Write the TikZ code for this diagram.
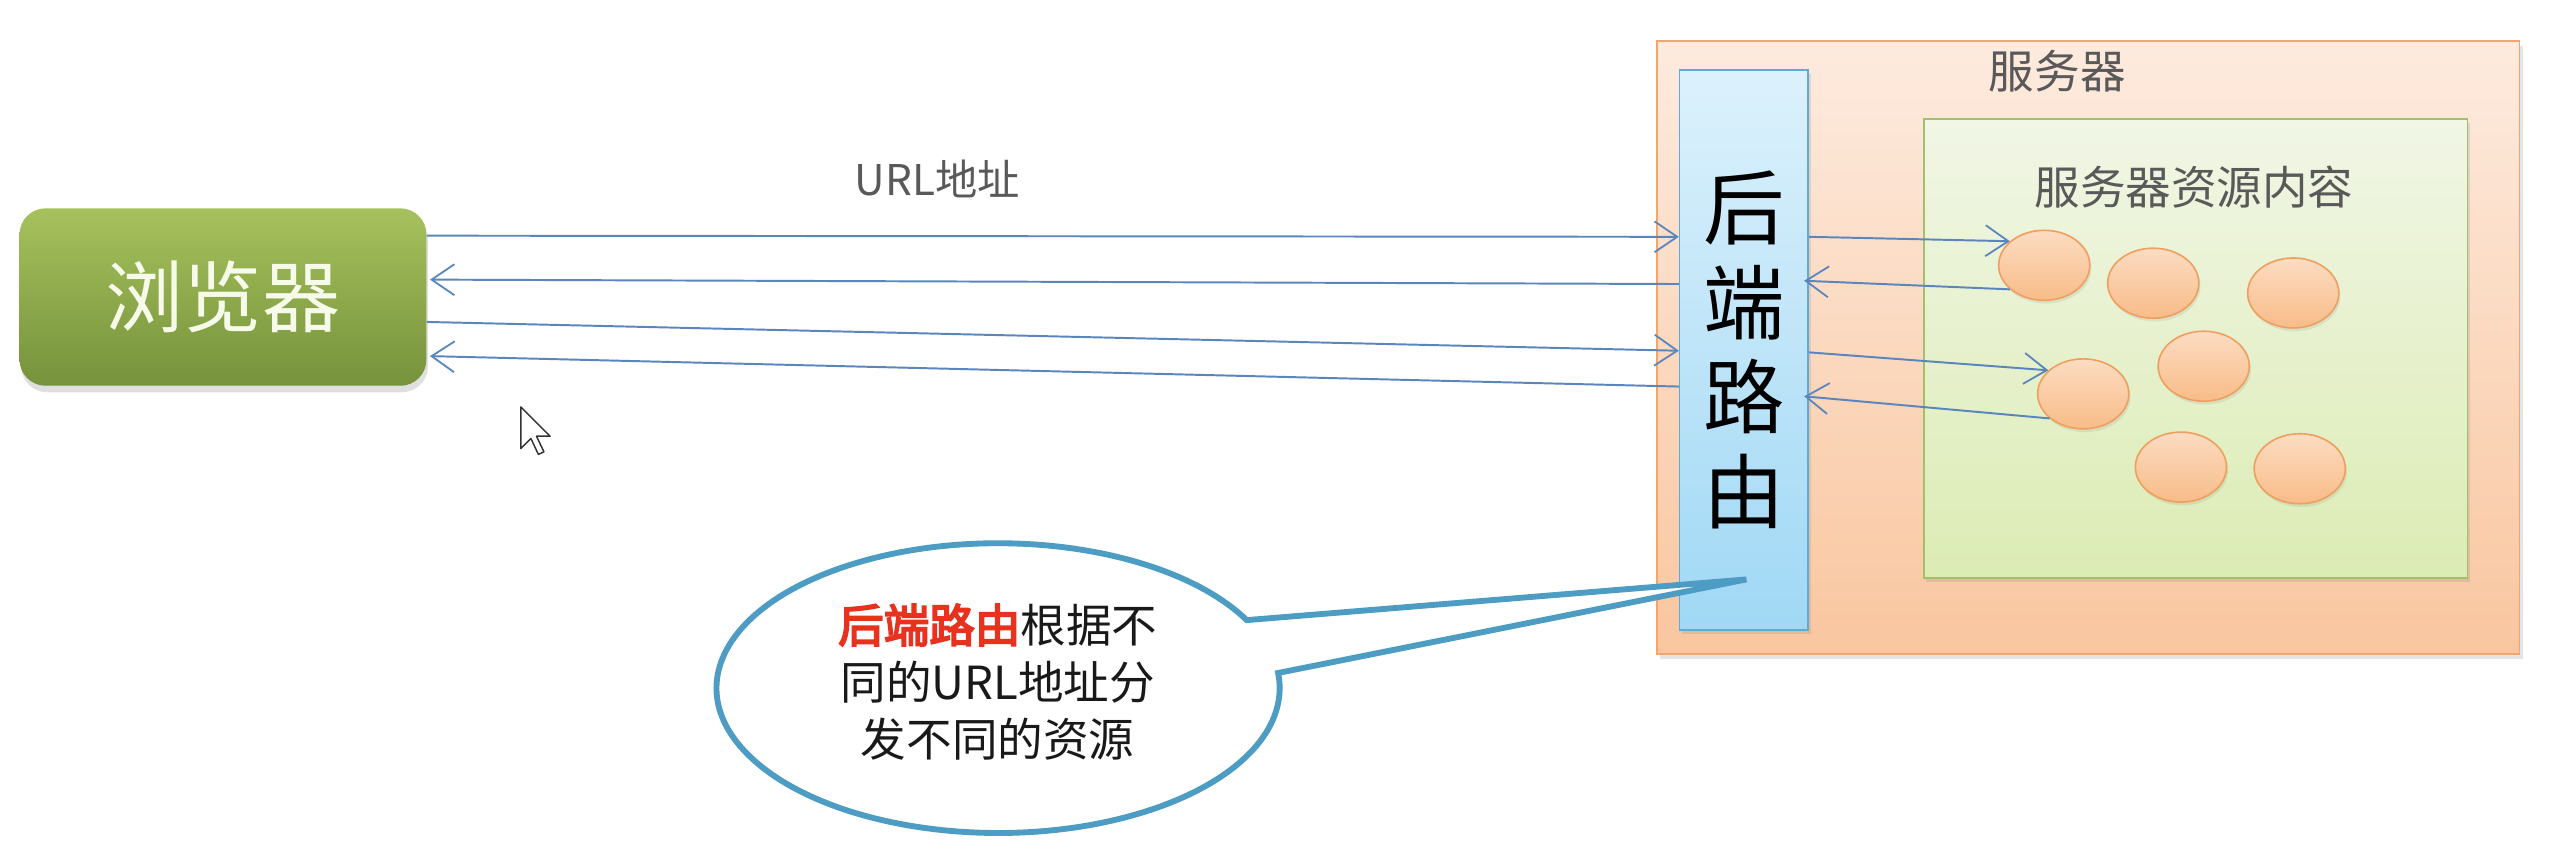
\documentclass[tikz,border=0pt]{standalone}
\usepackage{fontspec}
\setmainfont{Noto Sans CJK SC}
\newfontfamily\cjkbold[FakeBold=4]{Noto Sans CJK SC}
\usetikzlibrary{arrows.meta,shadows,calc,shapes.geometric}
\definecolor{linkblue}{HTML}{5A85BD}
\definecolor{graytxt}{HTML}{595959}
\definecolor{brtop}{HTML}{A6C15C}
\definecolor{brbot}{HTML}{76923C}
\definecolor{brtext}{HTML}{F6FAE8}
\definecolor{srvtop}{HTML}{FDEBDF}
\definecolor{srvbot}{HTML}{F9C69F}
\definecolor{srvline}{HTML}{F2A66E}
\definecolor{rttop}{HTML}{DCF1FC}
\definecolor{rtbot}{HTML}{A0D8F5}
\definecolor{rtline}{HTML}{5EABD8}
\definecolor{intop}{HTML}{F1F6E6}
\definecolor{inbot}{HTML}{DCECB4}
\definecolor{inline}{HTML}{A2BF6C}
\definecolor{restop}{HTML}{FCDCC2}
\definecolor{resbot}{HTML}{F8BC88}
\definecolor{resline}{HTML}{EFA060}
\definecolor{callline}{HTML}{4C9CC3}
\definecolor{callred}{HTML}{E8321E}
\begin{document}
\begin{tikzpicture}[x=1pt,y=-1pt,
  conn/.style={draw=linkblue, line width=1.2pt,
    -{Straight Barb[length=14pt,width=19pt,line width=1.1pt]}},
  browserbox/.style={rounded corners=16pt, minimum width=250pt, minimum height=109pt,
    inner sep=0pt, top color=brtop, bottom color=brbot, text=brtext,
    font=\fontsize{48}{58}\selectfont,
    drop shadow={opacity=0.25, shadow xshift=1pt, shadow yshift=-4pt}},
  serverbox/.style={draw=srvline, line width=1pt, minimum width=530pt, minimum height=377pt,
    top color=srvtop, bottom color=srvbot, inner sep=0pt,
    drop shadow={opacity=0.2, shadow xshift=2pt, shadow yshift=-3pt}},
  routerbox/.style={draw=rtline, line width=1pt, minimum width=79pt, minimum height=344pt,
    top color=rttop, bottom color=rtbot, inner sep=0pt, align=center,
    font=\fontsize{50}{58}\selectfont,
    drop shadow={opacity=0.2, shadow xshift=1.5pt, shadow yshift=-2.5pt}},
  innerbox/.style={draw=inline, line width=1pt, minimum width=334pt, minimum height=282pt,
    top color=intop, bottom color=inbot, inner sep=0pt,
    drop shadow={opacity=0.2, shadow xshift=1.5pt, shadow yshift=-2.5pt}},
  res/.style={ellipse, draw=resline, line width=1pt, minimum width=56pt, minimum height=43pt,
    top color=restop, bottom color=resbot, inner sep=0pt,
    drop shadow={opacity=0.15, shadow xshift=1pt, shadow yshift=-2pt}},
  graylabel/.style={text=graytxt, inner sep=0pt, font=\fontsize{28}{34}\selectfont},
  calloutline/.style={draw=callline, line width=3.6pt, fill=white, line join=miter},
]
\useasboundingbox (0,0) rectangle (1568,531);
\fill[white] (0,0) rectangle (1568,531);

% server
\node[serverbox] (server) at (1283,213.5) {};
\node[graylabel] (servlabel) at (1264,44) {服务器};
\node[innerbox] (inner) at (1349,214) {};
\node[graylabel] (inlabel) at (1348,115) {服务器资源内容};
\node[routerbox] (router) at (1071.5,215) {后\\端\\路\\由};

% resources
\node[res] (e1) at (1256,163) {};
\node[res] (e2) at (1323,174) {};
\node[res] (e3) at (1409,180) {};
\node[res] (e4) at (1354,225) {};
\node[res] (e5) at (1280,242) {};
\node[res] (e6) at (1340,287) {};
\node[res] (e7) at (1413,288) {};

% browser
\node[browserbox] (browser) at (137,182.5) {浏览器};

% URL label
\node[text=graytxt, inner sep=0pt, font=\fontsize{26}{30}\selectfont] (url) at (576,110) {URL地址};

% outer connectors
\draw[conn] ($(browser.north east)+(0,17)$) -- ($(router.north west)+(0,103)$);
\draw[conn] ($(router.north west)+(0,132)$) -- ($(browser.north east)+(2,44)$);
\draw[conn] ($(browser.north east)+(0,70)$) -- ($(router.north west)+(0,173)$);
\draw[conn] ($(router.north west)+(0,195)$) -- ($(browser.north east)+(2,91)$);

% inner connectors
\draw[conn] ($(router.north east)+(0,103)$) -- (e1.145);
\draw[conn] (e1.215) -- ($(router.north east)+(-3,130)$);
\draw[conn] ($(router.north east)+(0,174)$) -- (e5.146);
\draw[conn] (e5.216) -- ($(router.north east)+(-3,201)$);

% callout
\draw[calloutline] (766,381) arc[start angle=28, end angle=366, x radius=173pt, y radius=89pt]
  -- (1073,356) -- cycle;
\node[align=center, inner sep=0pt, text=black!90, font=\fontsize{28}{35}\selectfont] (note) at (613,419)
  {{\color{callred}\cjkbold 后端路由}根据不\\同的URL地址分\\发不同的资源};

% mouse cursor
\draw[fill=white, draw=black!80, line width=0.9pt, line join=round]
  (320,250) -- ++(0,25.6) -- ++(6.2,-6.2) -- ++(4.6,9.8) -- ++(3.4,-1.6) -- ++(-4.6,-9.6)
  -- ++(8.4,0) -- cycle;
\end{tikzpicture}
\end{document}
